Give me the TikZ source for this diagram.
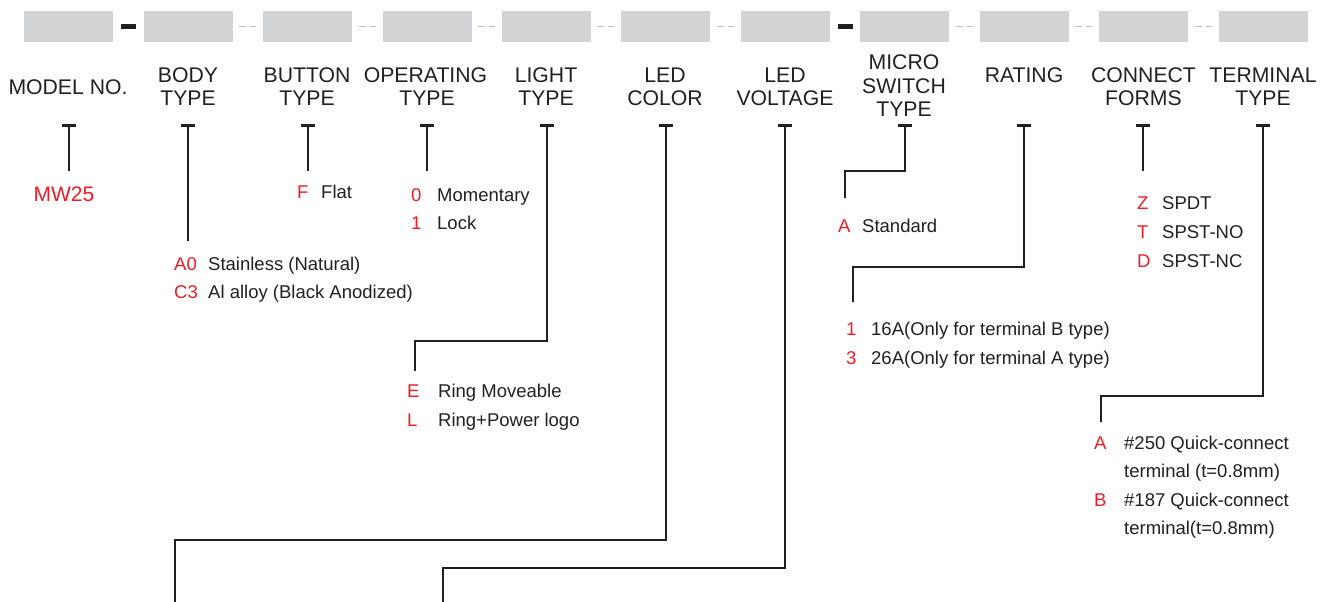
\documentclass[tikz,border=0pt]{standalone}
\usepackage{fontspec}
\setmainfont{Liberation Sans}
\definecolor{boxgray}{HTML}{D1D3D4}
\definecolor{ink}{HTML}{231F20}
\definecolor{codered}{HTML}{ED1C24}
\definecolor{sepgray}{HTML}{BCBEC0}
\begin{document}
\begin{tikzpicture}[x=1pt,y=-1pt,
  slot/.style={fill=boxgray, draw=none, inner sep=0pt, minimum width=89pt, minimum height=31pt, anchor=north west},
  hdr/.style={anchor=base, inner sep=0pt, text=ink, font=\fontsize{21.2}{22.5}\selectfont},
  code/.style={anchor=base west, inner sep=0pt, text=codered, font=\fontsize{18.5}{20}\selectfont},
  desc/.style={anchor=base west, inner sep=0pt, text=ink, font=\fontsize{18.5}{20}\selectfont},
  lead/.style={draw=ink, line width=2pt},
  tbar/.style={draw=ink, line width=3pt},
  bigdash/.style={fill=ink, draw=none},
  smalldash/.style={draw=sepgray, line width=1.5pt},
]
\useasboundingbox (0,0) rectangle (1320,602);

% slots
\foreach \i/\l in {1/24,2/144,3/263,4/383,5/502,6/621,7/741,8/860,9/980,10/1099,11/1219}{
  \node[slot] (b\i) at (\l,11) {};
}
% separators
\fill[bigdash] (121,24) rectangle (136,29);
\fill[bigdash] (838,24) rectangle (853,29);
\foreach \g in {248,367.5,487,606,725.5,964.5,1084,1203.5}{
  \draw[smalldash] (\g-9,26.5) -- (\g-2,26.5);
  \draw[smalldash] (\g+2,26.5) -- (\g+8,26.5);
}

% headers
\node[hdr] (h1) at (68,94) {MODEL NO.};
\node[hdr] (h2a) at (188,82.7) {BODY};
\node[hdr] (h2b) at (188,105) {TYPE};
\node[hdr] (h3a) at (307,82.7) {BUTTON};
\node[hdr] (h3b) at (307,105) {TYPE};
\node[hdr] (h4a) at (425.5,82.7) {OPERATING};
\node[hdr] (h4b) at (427,105) {TYPE};
\node[hdr] (h5a) at (546,82.7) {LIGHT};
\node[hdr] (h5b) at (546,105) {TYPE};
\node[hdr] (h6a) at (665,82.7) {LED};
\node[hdr] (h6b) at (665,105) {COLOR};
\node[hdr] (h7a) at (785,82.7) {LED};
\node[hdr] (h7b) at (785,105) {VOLTAGE};
\node[hdr] (h8a) at (904,70) {MICRO};
\node[hdr] (h8b) at (904,93.3) {SWITCH};
\node[hdr] (h8c) at (904,116.5) {TYPE};
\node[hdr] (h9) at (1024,82.7) {RATING};
\node[hdr] (h10a) at (1143.5,82.7) {CONNECT};
\node[hdr] (h10b) at (1143.5,105) {FORMS};
\node[hdr] (h11a) at (1263,82.7) {TERMINAL};
\node[hdr] (h11b) at (1263,105) {TYPE};

% T markers
\foreach \i/\x in {1/68.5,2/188,3/307.5,4/427,5/546.5,6/665.5,7/785,8/905,9/1024,10/1143,11/1263}{
  \coordinate (t\i) at (\x,125.5);
  \draw[tbar] (\x-7,125.5) -- (\x+7,125.5);
}

% connectors
\coordinate (e1) at (68.5,171);
\draw[lead] (t1) -- (e1);
\coordinate (e2) at (188,241);
\draw[lead] (t2) -- (e2);
\coordinate (e3) at (307.5,171);
\draw[lead] (t3) -- (e3);
\coordinate (e4) at (427,171);
\draw[lead] (t4) -- (e4);
\coordinate (m5) at (415,341);
\coordinate (e5) at (415,371);
\draw[lead] (t5) |- (m5) -- (e5);
\coordinate (m6) at (175,540);
\coordinate (e6) at (175,604);
\draw[lead] (t6) |- (m6) -- (e6);
\coordinate (m7) at (443,568);
\coordinate (e7) at (443,604);
\draw[lead] (t7) |- (m7) -- (e7);
\coordinate (m8) at (845,171);
\coordinate (e8) at (845,198);
\draw[lead] (t8) |- (m8) -- (e8);
\coordinate (m9) at (853,267);
\coordinate (e9) at (853,302);
\draw[lead] (t9) |- (m9) -- (e9);
\coordinate (e10) at (1143,171);
\draw[lead] (t10) -- (e10);
\coordinate (m11) at (1101,396);
\coordinate (e11) at (1101,422);
\draw[lead] (t11) |- (m11) -- (e11);

% options
\node[anchor=base, inner sep=0pt, text=codered, font=\fontsize{21}{22}\selectfont] (o1) at (64,201) {MW25};

\node[code] (c2a) at (174,270) {A0};
\node[desc] (d2a) at (208,270) {Stainless (Natural)};
\node[code] (c2b) at (174,298) {C3};
\node[desc] (d2b) at (208,298) {Al alloy (Black Anodized)};

\node[code] (c3a) at (297,198) {F};
\node[desc] (d3a) at (321,198) {Flat};

\node[code] (c4a) at (411,201) {0};
\node[desc] (d4a) at (437,201) {Momentary};
\node[code] (c4b) at (411,229) {1};
\node[desc] (d4b) at (437,229) {Lock};

\node[code] (c5a) at (407,397) {E};
\node[desc] (d5a) at (438,397) {Ring Moveable};
\node[code] (c5b) at (407,426) {L};
\node[desc] (d5b) at (438,426) {Ring+Power logo};

\node[code] (c8a) at (838,232) {A};
\node[desc] (d8a) at (862,232) {Standard};

\node[code] (c9a) at (846,335) {1};
\node[desc] (d9a) at (871,335) {16A(Only for terminal B type)};
\node[code] (c9b) at (846,364) {3};
\node[desc] (d9b) at (871,364) {26A(Only for terminal A type)};

\node[code] (c10a) at (1137,209) {Z};
\node[desc] (d10a) at (1162,209) {SPDT};
\node[code] (c10b) at (1137,238) {T};
\node[desc] (d10b) at (1162,238) {SPST-NO};
\node[code] (c10c) at (1137,267) {D};
\node[desc] (d10c) at (1162,267) {SPST-NC};

\node[code] (c11a) at (1094,449) {A};
\node[desc] (d11a) at (1124,449) {\#250 Quick-connect};
\node[desc] (d11b) at (1124,477) {terminal (t=0.8mm)};
\node[code] (c11b) at (1094,506) {B};
\node[desc] (d11c) at (1124,506) {\#187 Quick-connect};
\node[desc] (d11d) at (1124,534) {terminal(t=0.8mm)};
\end{tikzpicture}
\end{document}
